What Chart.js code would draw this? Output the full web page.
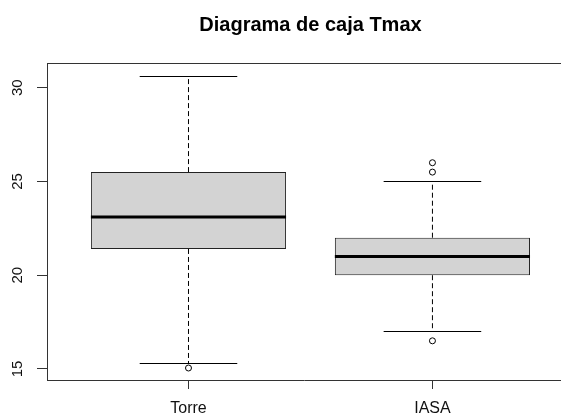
<!DOCTYPE html>
<html>
<head>
<meta charset="utf-8">
<script src="https://cdn.jsdelivr.net/npm/chart.js@4"></script>
<style>
  body { margin: 0; background: #fff; }
  canvas { display: block; }
</style>
</head>
<body>
<canvas id="boxCanvas" width="561" height="418"></canvas>
<script>
// five-number summaries per station
const categories = ["Torre", "IASA"];
const whiskerLow = [15.3, 17.0];
const q1 = [21.4, 20.0];
const median = [23.1, 21.0];
const q3 = [25.5, 22.0];
const whiskerHigh = [30.6, 25.0];
const outliers = [[15.05], [16.5, 25.5, 26.0]];
const yTicks = [15, 20, 25, 30];
const titleText = "Diagrama de caja Tmax";

const lineColor = "#333";

let boxData = categories.map((c, i) => ({ x: i + 1, y: [q1[i], q3[i]] }));
let outlierData = [];
outliers.forEach((list, i) => {
    for (const v of list) {
        outlierData.push({ x: i + 1, y: v });
    }
});

// whiskers, medians, frame, y labels and title
const boxExtras = {
    id: "boxExtras",
    afterDatasetsDraw(chart) {
        let ctx = chart.ctx;
        let xs = chart.scales.x;
        let ys = chart.scales.y;
        ctx.save();
        ctx.strokeStyle = "#000";

        for (let i = 0; i < categories.length; i++) {
            let cx = xs.getPixelForValue(i + 1);
            let capL = xs.getPixelForValue(i + 1 - 0.2);
            let capR = xs.getPixelForValue(i + 1 + 0.2);

            // dashed whiskers
            ctx.lineWidth = 1;
            ctx.setLineDash([5, 3]);
            ctx.beginPath();
            ctx.moveTo(cx, ys.getPixelForValue(q3[i]));
            ctx.lineTo(cx, ys.getPixelForValue(whiskerHigh[i]));
            ctx.moveTo(cx, ys.getPixelForValue(q1[i]));
            ctx.lineTo(cx, ys.getPixelForValue(whiskerLow[i]));
            ctx.stroke();

            // caps
            ctx.setLineDash([]);
            ctx.beginPath();
            let yHi = Math.round(ys.getPixelForValue(whiskerHigh[i])) + 0.5;
            let yLo = Math.round(ys.getPixelForValue(whiskerLow[i])) + 0.5;
            ctx.moveTo(capL, yHi);
            ctx.lineTo(capR, yHi);
            ctx.moveTo(capL, yLo);
            ctx.lineTo(capR, yLo);
            ctx.stroke();

            // median
            ctx.lineWidth = 3;
            ctx.beginPath();
            let ym = ys.getPixelForValue(median[i]);
            ctx.moveTo(xs.getPixelForValue(i + 1 - 0.4), ym);
            ctx.lineTo(xs.getPixelForValue(i + 1 + 0.4), ym);
            ctx.stroke();
        }

        // top line of the frame
        let area = chart.chartArea;
        ctx.lineWidth = 1;
        ctx.strokeStyle = lineColor;
        ctx.beginPath();
        ctx.moveTo(area.left, area.top + 0.5);
        ctx.lineTo(area.right, area.top + 0.5);
        ctx.stroke();

        // rotated y labels
        ctx.fillStyle = "#111";
        ctx.font = "15px 'Liberation Sans', Arial, sans-serif";
        ctx.textAlign = "center";
        ctx.textBaseline = "middle";
        for (const v of yTicks) {
            ctx.save();
            ctx.translate(18, ys.getPixelForValue(v));
            ctx.rotate(-Math.PI / 2);
            ctx.fillText(String(v), 0, 0);
            ctx.restore();
        }

        // title centred over the plot region
        ctx.fillStyle = "#000";
        ctx.font = "bold 20px 'Liberation Sans', Arial, sans-serif";
        ctx.textBaseline = "alphabetic";
        ctx.fillText(titleText, xs.getPixelForValue((categories.length + 1) / 2), 31);

        ctx.restore();
    }
};

let chart = new Chart(document.getElementById("boxCanvas"), {
    type: "bar",
    data: {
        datasets: [{
            label: "caja",
            data: boxData,
            backgroundColor: "#d3d3d3",
            borderColor: "#222",
            borderWidth: 1,
            borderSkipped: false,
            categoryPercentage: 1,
            barPercentage: 0.8,
            order: 2
        }, {
            type: "scatter",
            label: "atipicos",
            data: outlierData,
            pointStyle: "circle",
            pointRadius: 3,
            pointBackgroundColor: "rgba(255,255,255,0)",
            pointBorderColor: "#000",
            pointBorderWidth: 1,
            order: 1
        }]
    },
    options: {
        responsive: false,
        animation: false,
        layout: { autoPadding: false, padding: { top: 63, left: 0, right: 0, bottom: 0 } },
        plugins: {
            legend: { display: false },
            tooltip: { enabled: false },
            title: { display: false }
        },
        scales: {
            x: {
                type: "linear",
                offset: false,
                bounds: "data",
                min: 0.42,
                max: 2.527,
                afterBuildTicks: (axis) => {
                    axis.ticks = categories.map((c, i) => ({ value: i + 1 }));
                },
                afterFit: (axis) => {
                    axis.height = 38;
                    axis.paddingLeft = 0;
                    axis.paddingRight = 0;
                },
                ticks: {
                    callback: (v) => categories[v - 1],
                    font: { family: "'Liberation Sans', Arial, sans-serif", size: 16 },
                    color: "#111",
                    padding: 10,
                    maxRotation: 0,
                    autoSkip: false
                },
                grid: {
                    offset: false,
                    drawOnChartArea: false,
                    tickLength: 9,
                    color: lineColor
                },
                border: { color: lineColor, width: 1 }
            },
            y: {
                type: "linear",
                min: 14.41,
                max: 31.32,
                afterBuildTicks: (axis) => {
                    axis.ticks = yTicks.map((v) => ({ value: v }));
                },
                afterFit: (axis) => { axis.width = 47; },
                ticks: { display: false },
                grid: {
                    drawOnChartArea: false,
                    tickLength: 10,
                    color: lineColor
                },
                border: { color: lineColor, width: 1 }
            }
        }
    },
    plugins: [boxExtras]
});
</script>
</body>
</html>
